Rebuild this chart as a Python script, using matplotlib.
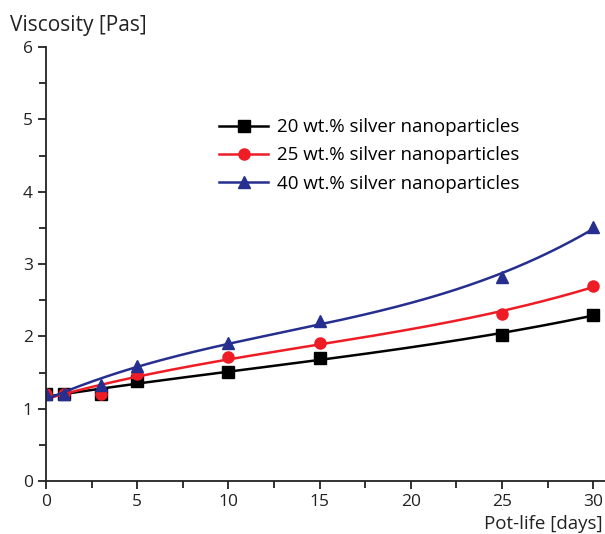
import numpy as np
import matplotlib.pyplot as plt
from matplotlib.ticker import MultipleLocator

# Pot-life measurements
days = [0, 1, 3, 5, 10, 15, 25, 30]
visc_20 = [1.2, 1.2, 1.2, 1.38, 1.51, 1.70, 2.02, 2.30]
visc_25 = [1.2, 1.2, 1.2, 1.48, 1.71, 1.91, 2.31, 2.70]
visc_40 = [1.2, 1.2, 1.33, 1.59, 1.91, 2.21, 2.82, 3.51]
labels = ['20 wt.% silver nanoparticles',
          '25 wt.% silver nanoparticles',
          '40 wt.% silver nanoparticles']

plt.rcParams['font.family'] = ['Open Sans', 'DejaVu Sans']

fig = plt.figure(figsize=(6.05, 5.34), dpi=100)
ax = fig.add_axes([46 / 605, 1 - 481 / 534, (605 - 46) / 605, (481 - 47) / 534])

series = [(visc_20, 'black', 's'), (visc_25, '#ee1c25', 'o'), (visc_40, '#262f8f', '^')]
xs = np.linspace(0, 30, 300)
for (vals, col, mk), lab in zip(series, labels):
    # smooth fitted curve through the measurements
    coef = np.polyfit(days, vals, 3)
    ys = np.polyval(coef, xs)
    ax.plot(xs, ys, color=col, lw=1.8)
    ax.plot(days, vals, linestyle='none', marker=mk, color=col, markersize=8)
    ax.plot([], [], color=col, lw=1.8, marker=mk, markersize=8, label=lab)

ax.set_xlim(0, 30.65)
ax.set_ylim(0, 6)
ax.xaxis.set_major_locator(MultipleLocator(5))
ax.xaxis.set_minor_locator(MultipleLocator(2.5))
ax.yaxis.set_major_locator(MultipleLocator(1))
ax.yaxis.set_minor_locator(MultipleLocator(0.5))
for s in ['top', 'right']:
    ax.spines[s].set_visible(False)
for s in ['left', 'bottom']:
    ax.spines[s].set_linewidth(1.3)
    ax.spines[s].set_color('#222222')
ax.tick_params(which='both', direction='out', width=1.3, colors='#222222', labelsize=12.5)
ax.tick_params(which='major', length=6)
ax.tick_params(which='minor', length=5)

fig.text(10 / 605, 1 - 25 / 534, 'Viscosity [Pas]', fontsize=15, va='center', ha='left', color='#222222')
fig.text(603 / 605, 1 - 524 / 534, 'Pot-life [days]', fontsize=13.5, va='center', ha='right', color='#222222')

ax.legend(loc='upper left', bbox_to_anchor=(0.28, 0.875), frameon=False, fontsize=13.5,
          handlelength=2.6, handletextpad=0.45, labelspacing=0.55)

fig.savefig('out.png', dpi=100)
